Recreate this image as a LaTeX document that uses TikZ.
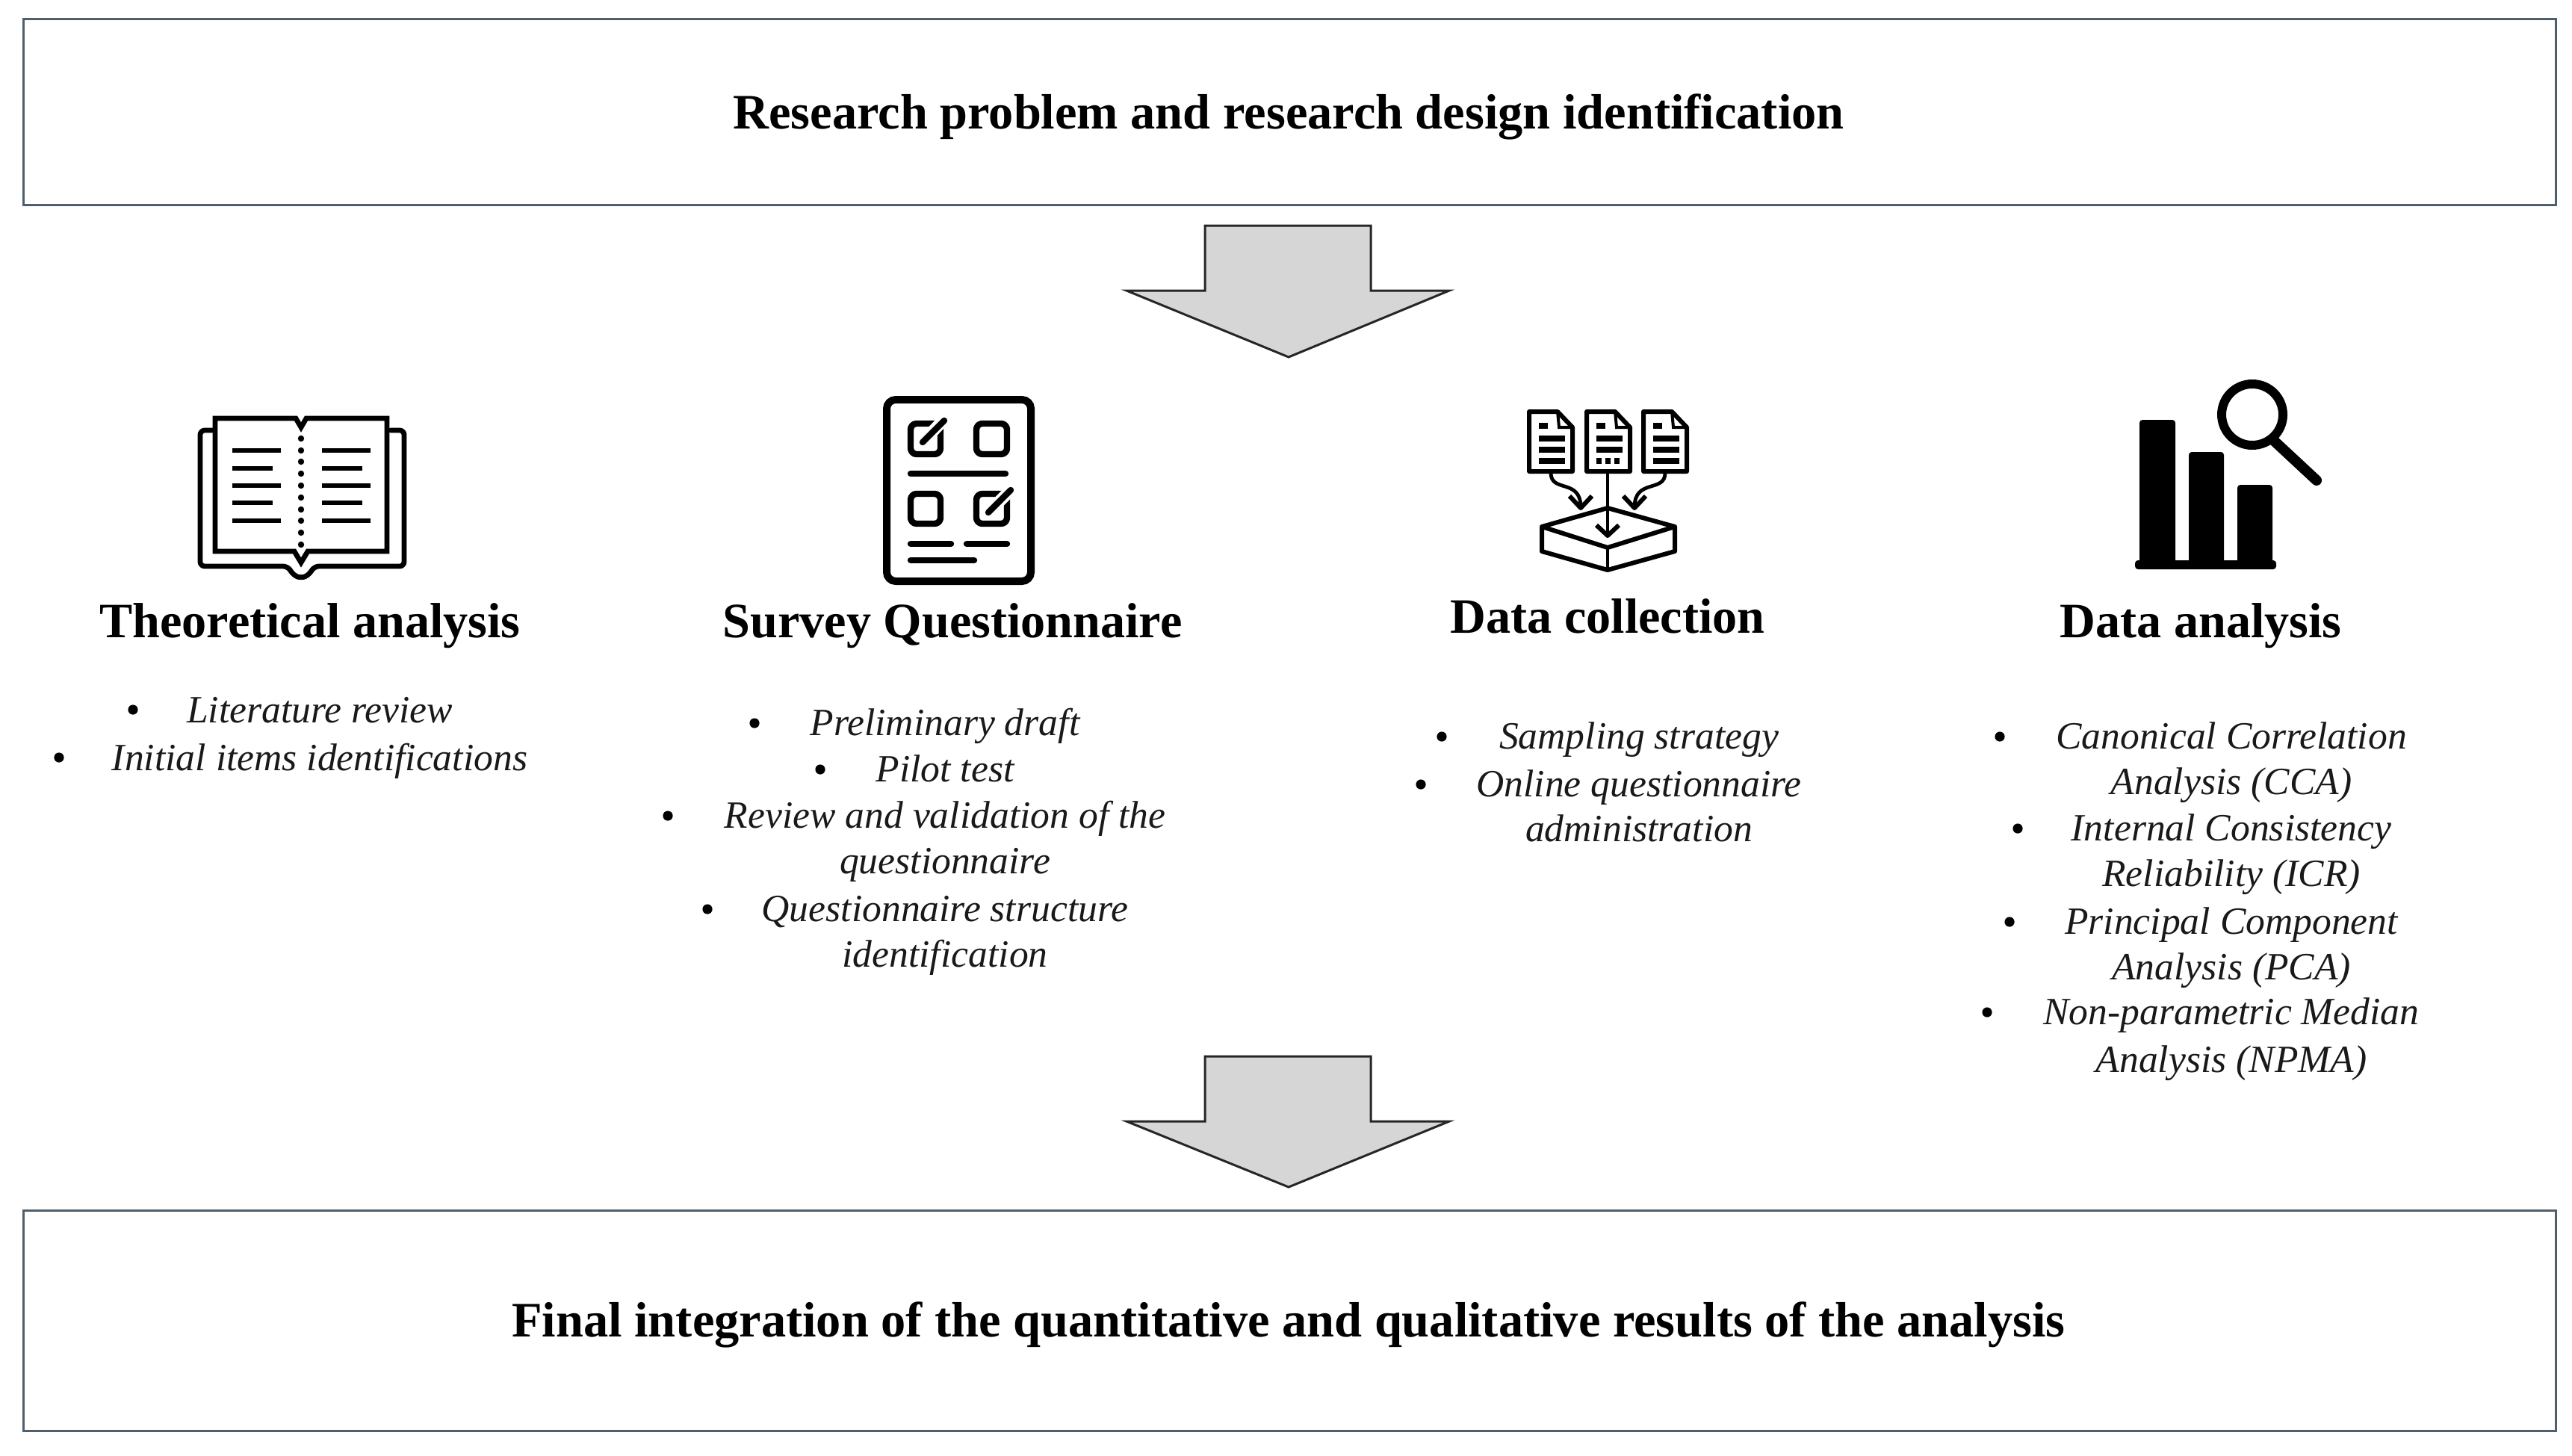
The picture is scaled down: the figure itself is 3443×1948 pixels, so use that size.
\documentclass[tikz,border=0pt]{standalone}
\usepackage{fontspec}
\setmainfont{Liberation Serif}
\begin{document}
\begin{tikzpicture}[x=0.25pt,y=-0.25pt,
  framebox/.style={draw=framecol,line width=0.75pt,fill=white},
  blockarrow/.style={draw=black!85,line width=0.75pt,fill=arrowgray,line join=miter},
  mainhead/.style={font=\fontsize{16.6}{18}\selectfont\bfseries,text=black,inner sep=0pt,text height=13.8pt,text depth=3.2pt},
  sechead/.style={font=\fontsize{16.55}{18}\selectfont\bfseries,text=black,inner sep=0pt,text height=13.8pt,text depth=3.2pt},
  item/.style={font=\fontsize{12.9}{15.5}\selectfont\itshape,text=black!90,inner sep=0pt,text height=11.2pt,text depth=3pt},
  dotb/.style={circle,fill=black,inner sep=0pt,minimum size=3.3pt},
  ink/.style={draw=black,line width=1.7pt,line cap=round,line join=round},
  inkb/.style={draw=black,line width=2.1pt,line cap=round,line join=round},
  inkc/.style={draw=black,line width=1.5pt,line join=round},
  bar/.style={fill=black,rounded corners=1pt}]
\definecolor{framecol}{HTML}{4F5F6E}
\definecolor{arrowgray}{HTML}{D6D6D6}
\useasboundingbox (0,0) rectangle (3443,1948);
\fill[white] (0,0) rectangle (3443,1948);

% frames
\draw[framebox] (31,26) rectangle (3421,274);
\draw[framebox] (31,1620) rectangle (3421,1915);
\node[mainhead] (top) at (1725,151) {Research problem and research design identification};
\node[mainhead] (bottom) at (1725,1768) {Final integration of the quantitative and qualitative results of the analysis};

% block arrows
\draw[blockarrow] (1613,302) -- (1835,302) -- (1835,389) -- (1940,389) -- (1725,478) -- (1508,389) -- (1613,389) -- cycle;
\draw[blockarrow] (1613,1414) -- (1835,1414) -- (1835,1501) -- (1940,1501) -- (1725,1589) -- (1508,1501) -- (1613,1501) -- cycle;

% book icon
\draw[ink,rounded corners=1.5pt] (286,576) -- (268,576) -- (268,758) -- (385,758) -- (393,770) -- (403,774) -- (413,770) -- (421,758) -- (541,758) -- (541,576) -- (523,576);
\draw[ink,line cap=butt,line join=miter] (403,572) -- (396,560) -- (288,560) -- (288,738) -- (394,738) -- (403,753) -- (412,738) -- (518,738) -- (518,560) -- (410,560) -- cycle;
\foreach \yy/\ww in {603/65,627/54,650/65,673/54,697/65}{
  \draw[draw=black,line width=1.7pt] (311,\yy) -- ++(\ww,0);
  \draw[draw=black,line width=1.7pt] (431,\yy) -- ++(\ww,0);
}
\foreach \yy in {587,603,618,634,650,666,682,697,713,729}{
  \fill[black] (403,\yy) circle[radius=4.2];
}

% questionnaire icon
\draw[draw=black,line width=2.5pt,rounded corners=3pt] (1187,535) rectangle (1380,778);
\draw[inkb,rounded corners=2pt] (1219,567) rectangle (1259,608);
\draw[inkb,rounded corners=2pt] (1307,567) rectangle (1348,608);
\draw[inkb,rounded corners=2pt] (1219,661) rectangle (1259,701);
\draw[inkb,rounded corners=2pt] (1307,661) rectangle (1348,701);
\draw[draw=white,line width=4pt] (1235,592) -- (1265,560);
\draw[draw=white,line width=4pt] (1323,686) -- (1355,654);
\draw[inkb] (1235,592) -- (1264,563);
\draw[inkb] (1323,686) -- (1353,656);
\draw[inkb] (1219,634) -- (1346,634);
\draw[inkb] (1219,728) -- (1273,728);
\draw[inkb] (1294,728) -- (1348,728);
\draw[inkb] (1219,750) -- (1304,750);

% data collection icon
\foreach \xx in {2045,2122,2198}{
  \draw[inkc] (\xx+2,551) -- (\xx+40,551) -- (\xx+60,572) -- (\xx+60,631) -- (\xx+2,631) -- cycle;
  \draw[draw=black,line width=1pt] (\xx+40,551) -- (\xx+42,572) -- (\xx+60,572);
  \draw[draw=black,line width=2pt] (\xx+15,570) -- ++(12,0);
  \draw[draw=black,line width=2pt] (\xx+15,587) -- ++(35,0);
  \draw[draw=black,line width=2pt] (\xx+15,602) -- ++(35,0);
}
\draw[draw=black,line width=2pt] (2060,617) -- ++(35,0);
\draw[draw=black,line width=2pt] (2213,617) -- ++(35,0);
\draw[draw=black,line width=2pt,dash pattern=on 1.8pt off 1.2pt] (2137,617) -- ++(35,0);
\draw[inkc] (2064,705) -- (2152,680) -- (2242,705) -- (2152,733) -- cycle;
\draw[inkc] (2064,705) -- (2064,738) -- (2152,763) -- (2242,738) -- (2242,705);
\draw[draw=black,line width=1.2pt] (2152,733) -- (2152,763);
\draw[draw=black,line width=1.2pt] (2152,633) -- (2152,716);
\draw[inkc] (2137,703) -- (2152,717) -- (2167,703);
\draw[draw=black,line width=1.2pt] (2076,633) .. controls (2076,660) and (2116,640) .. (2116,679);
\draw[inkc] (2101,664) -- (2116,680) -- (2131,664);
\draw[draw=black,line width=1.2pt] (2229,633) .. controls (2229,660) and (2188,640) .. (2188,679);
\draw[inkc] (2173,664) -- (2188,680) -- (2203,664);

% data analysis icon
\fill[bar] (2864,562) rectangle (2912,760);
\fill[bar] (2930,605) rectangle (2977,760);
\fill[bar] (2995,649) rectangle (3042,760);
\fill[bar] (2858,750) rectangle (3047,762);
\draw[draw=black,line width=3pt] (3015,555) circle[radius=41];
\draw[draw=black,line width=3.5pt,line cap=round] (3044,590) -- (3101,643);

% section headings
\node[sechead] (theory) at (415,832) {Theoretical analysis};
\node[sechead] (survey) at (1275,832) {Survey Questionnaire};
\node[sechead] (collect) at (2152,826) {Data collection};
\node[sechead] (analysis) at (2946,832) {Data analysis};

% column 1
\node[item] (a1) at (428,951) {Literature review};
\node[item] (a2) at (428,1015) {Initial items identifications};
\node[dotb] (ab1) at (178,950) {};
\node[dotb] (ab2) at (79,1014) {};

% column 2
\node[item] (b1) at (1265,968) {Preliminary draft};
\node[item] (b2) at (1265,1030) {Pilot test};
\node[item] (b3) at (1265,1092) {Review and validation of the};
\node[item] (b4) at (1265,1153) {questionnaire};
\node[item] (b5) at (1265,1217) {Questionnaire structure};
\node[item] (b6) at (1265,1278) {identification};
\node[dotb] (bb1) at (1010,968) {};
\node[dotb] (bb2) at (1098,1030) {};
\node[dotb] (bb3) at (894,1092) {};
\node[dotb] (bb5) at (947,1217) {};

% column 3
\node[item] (c1) at (2194,986) {Sampling strategy};
\node[item] (c2) at (2194,1050) {Online questionnaire};
\node[item] (c3) at (2194,1110) {administration};
\node[dotb] (cb1) at (1930,986) {};
\node[dotb] (cb2) at (1902,1050) {};

% column 4
\node[item] (d1) at (2987,986) {Canonical Correlation};
\node[item] (d2) at (2987,1047) {Analysis (CCA)};
\node[item] (d3) at (2987,1109) {Internal Consistency};
\node[item] (d4) at (2987,1170) {Reliability (ICR)};
\node[item] (d5) at (2987,1234) {Principal Component};
\node[item] (d6) at (2987,1295) {Analysis (PCA)};
\node[item] (d7) at (2987,1355) {Non-parametric Median};
\node[item] (d8) at (2987,1419) {Analysis (NPMA)};
\node[dotb] (db1) at (2677,986) {};
\node[dotb] (db3) at (2701,1109) {};
\node[dotb] (db5) at (2690,1234) {};
\node[dotb] (db7) at (2660,1355) {};
\end{tikzpicture}
\end{document}
